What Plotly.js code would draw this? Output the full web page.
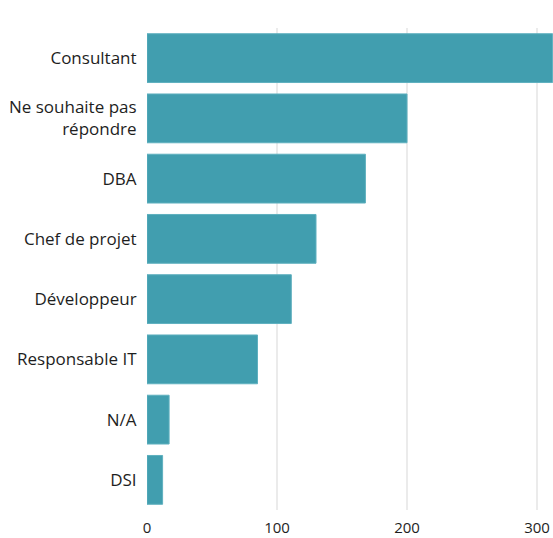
<!DOCTYPE html>
<html>
<head>
<meta charset="utf-8">
<script src="https://cdn.plot.ly/plotly-3.0.1.min.js"></script>
<style>html,body{margin:0;padding:0;background:#fff;}#chart{width:553px;height:538px;}</style>
</head>
<body>
<div id="chart"></div>
<script>
const categories = ["Consultant", "Ne souhaite pas<br>répondre", "DBA", "Chef de projet", "Développeur", "Responsable IT", "N/A", "DSI"];
const counts = [312, 200, 168, 130, 111, 85, 17, 12];
const xTicks = [0, 100, 200, 300];

const trace = {
  type: 'bar',
  orientation: 'h',
  y: categories,
  x: counts,
  marker: {color: '#419EAF', line: {color: '#5FB0BF', width: 1}},
  hoverinfo: 'x+y'
};

const layout = {
  width: 553,
  height: 538,
  margin: {l: 147, r: 0, t: 28, b: 28},
  paper_bgcolor: '#ffffff',
  plot_bgcolor: '#ffffff',
  bargap: 0.19,
  showlegend: false,
  font: {family: '"Open Sans", "Noto Sans", sans-serif', size: 16, color: '#1E1E1E'},
  xaxis: {
    range: [0, 312.3],
    tickvals: xTicks,
    ticktext: xTicks.map(String),
    showgrid: true,
    gridcolor: '#EBEBEB',
    gridwidth: 1.5,
    zeroline: false,
    showline: false,
    ticks: 'outside',
    ticklen: 4,
    tickcolor: 'rgba(0,0,0,0)',
    tickfont: {size: 15}
  },
  yaxis: {
    autorange: 'reversed',
    showgrid: false,
    zeroline: false,
    showline: false,
    ticks: 'outside',
    ticklen: 6,
    tickcolor: 'rgba(0,0,0,0)',
    tickfont: {size: 17}
  }
};

Plotly.newPlot('chart', [trace], layout, {displayModeBar: false, staticPlot: true});
</script>
</body>
</html>
